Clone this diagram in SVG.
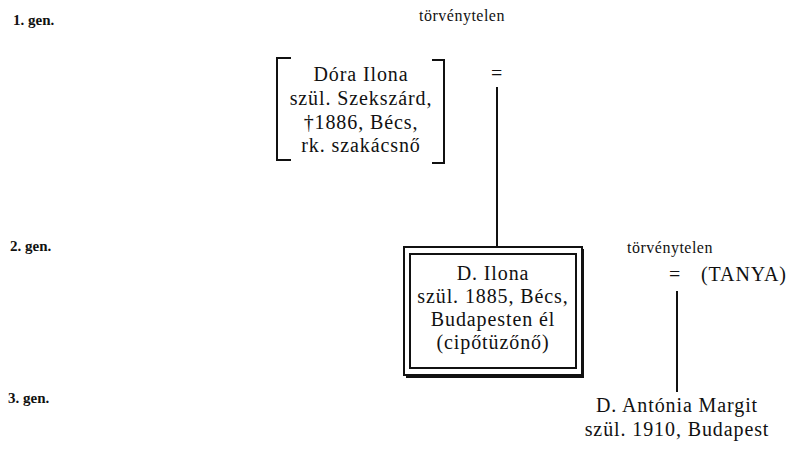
<svg xmlns="http://www.w3.org/2000/svg" width="804" height="449" viewBox="0 0 804 449">
<style>
.lbl{font-family:"Liberation Serif","Times New Roman",serif;font-size:15px;font-weight:bold;fill:#111}
.t{font-family:"Liberation Serif","Times New Roman",serif;font-size:20px;fill:#111;letter-spacing:0.9px}
.s{font-family:"Liberation Serif","Times New Roman",serif;font-size:16px;fill:#111;letter-spacing:0.5px}
.ln{stroke:#111;stroke-width:2;fill:none}
</style>
<rect width="804" height="449" fill="#fff"/>
<g id="gen-labels">
<text class="lbl" x="13" y="25">1. gen.</text>
<text class="lbl" x="10" y="251">2. gen.</text>
<text class="lbl" x="8" y="403">3. gen.</text>
</g>
<g id="dora">
<path class="ln" d="M291,58 H277 V160 H291"/>
<path class="ln" d="M432,60 H444 V163 H432"/>
<text class="t" text-anchor="middle" x="361" y="81">Dóra Ilona</text>
<text class="t" text-anchor="middle" x="361" y="105">szül. Szekszárd,</text>
<text class="t" text-anchor="middle" x="361" y="129">†1886, Bécs,</text>
<text class="t" text-anchor="middle" x="361" y="152">rk. szakácsnő</text>
</g>
<g id="union1">
<text class="s" x="419" y="21">törvénytelen</text>
<text class="t" text-anchor="middle" x="497" y="80">=</text>
</g>
<g id="ilona">
<rect x="404" y="247" width="178" height="128" fill="none" stroke="#111" stroke-width="2"/>
<path d="M583,249 V377 H406" fill="none" stroke="#111" stroke-width="2"/>
<rect x="410" y="254" width="166" height="114" fill="none" stroke="#111" stroke-width="2"/>
<text class="t" text-anchor="middle" x="493" y="280">D. Ilona</text>
<text class="t" text-anchor="middle" x="493" y="303">szül. 1885, Bécs,</text>
<text class="t" text-anchor="middle" x="493" y="326">Budapesten él</text>
<text class="t" text-anchor="middle" x="493" y="349">(cipőtüzőnő)</text>
</g>
<g id="union2">
<text class="s" x="627" y="253">törvénytelen</text>
<text class="t" text-anchor="middle" x="675" y="281">=</text>
</g>
<g id="tanya">
<text class="t" x="701" y="281">(TANYA)</text>
</g>
<g id="antonia">
<text class="t" text-anchor="middle" x="677" y="412">D. Antónia Margit</text>
<text class="t" text-anchor="middle" x="677" y="436">szül. 1910, Budapest</text>
</g>
<g id="connectors">
<line class="ln" x1="497" y1="87" x2="497" y2="247"/>
<line class="ln" x1="677" y1="291" x2="677" y2="392"/>
</g>
</svg>
